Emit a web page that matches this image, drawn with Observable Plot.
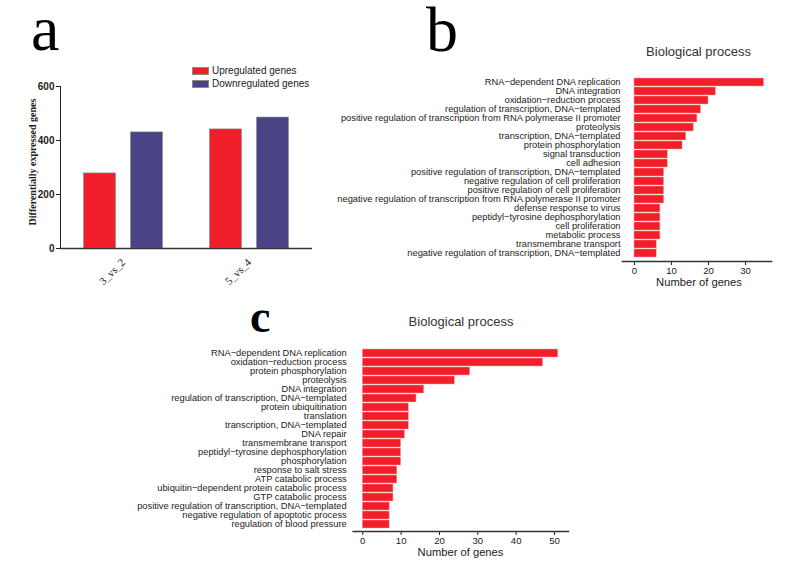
<!DOCTYPE html>
<html><head><meta charset="utf-8">
<script src="https://cdn.jsdelivr.net/npm/d3@7"></script>
<script src="https://cdn.jsdelivr.net/npm/@observablehq/plot@0.6"></script>
<style>
body{margin:0;background:#fff;}
#root{position:relative;width:787px;height:562px;overflow:hidden;background:#fff;font-family:"Liberation Sans",Arial,sans-serif;color:#222;}
#root svg{position:absolute;overflow:visible;}
.abs{position:absolute;white-space:nowrap;}
.pa g[aria-label="fx-axis tick label"]{font-family:"Liberation Serif","Times New Roman",serif;font-size:11px;}
.pa g[aria-label="y-axis tick label"]{font-weight:bold;font-size:10px;}
.pb g[aria-label="y-axis tick label"], .pc g[aria-label="y-axis tick label"]{font-size:9.3px;}
.pb g[aria-label="x-axis tick label"], .pc g[aria-label="x-axis tick label"]{font-size:9.6px;}
</style></head><body><div id="root"></div>
<script>
// ---- Panel a data ----
const comparisons = ["3_vs_2", "5_vs_4"];
const seriesNames = ["Upregulated genes", "Downregulated genes"];
const upValues = [278, 441];
const downValues = [430, 485];
const seriesColors = ["#f01e2a", "#4a4386"];
const aTicks = [0, 200, 400, 600];

// ---- Panel b data ----
const bTerms = [
  "RNA\u2212dependent DNA replication",
  "DNA integration",
  "oxidation\u2212reduction process",
  "regulation of transcription, DNA\u2212templated",
  "positive regulation of transcription from RNA polymerase II promoter",
  "proteolysis",
  "transcription, DNA\u2212templated",
  "protein phosphorylation",
  "signal transduction",
  "cell adhesion",
  "positive regulation of transcription, DNA\u2212templated",
  "negative regulation of cell proliferation",
  "positive regulation of cell proliferation",
  "negative regulation of transcription from RNA polymerase II promoter",
  "defense response to virus",
  "peptidyl\u2212tyrosine dephosphorylation",
  "cell proliferation",
  "metabolic process",
  "transmembrane transport",
  "negative regulation of transcription, DNA\u2212templated"
];
const bCounts = [35, 22, 20, 18, 17, 16, 14, 13, 9, 9, 8, 8, 8, 8, 7, 7, 7, 7, 6, 6];
const bTicks = [0, 10, 20, 30];

// ---- Panel c data ----
const cTerms = [
  "RNA\u2212dependent DNA replication",
  "oxidation\u2212reduction process",
  "protein phosphorylation",
  "proteolysis",
  "DNA integration",
  "regulation of transcription, DNA\u2212templated",
  "protein ubiquitination",
  "translation",
  "transcription, DNA\u2212templated",
  "DNA repair",
  "transmembrane transport",
  "peptidyl\u2212tyrosine dephosphorylation",
  "phosphorylation",
  "response to salt stress",
  "ATP catabolic process",
  "ubiquitin\u2212dependent protein catabolic process",
  "GTP catabolic process",
  "positive regulation of transcription, DNA\u2212templated",
  "negative regulation of apoptotic process",
  "regulation of blood pressure"
];
const cCounts = [51, 47, 28, 24, 16, 14, 12, 12, 12, 11, 10, 10, 10, 9, 9, 8, 8, 7, 7, 7];
const cTicks = [0, 10, 20, 30, 40, 50];

const barRed = "#f21f2b";
const root = document.getElementById("root");

function place(el, left, top) {
  el.style.left = left + "px";
  el.style.top = top + "px";
  root.appendChild(el);
}

function text(str, x, baseline, size, opts = {}) {
  const d = document.createElement("div");
  d.className = "abs";
  d.textContent = str;
  const serif = opts.serif;
  const lhf = opts.lh || 1;
  d.style.fontFamily = serif ? '"Liberation Serif","Times New Roman",serif' : '"Liberation Sans",Arial,sans-serif';
  d.style.fontSize = size + "px";
  d.style.lineHeight = (lhf * size) + "px";
  if (opts.weight) d.style.fontWeight = opts.weight;
  d.style.color = opts.color || "#222";
  const asc = serif ? 0.891 : 0.905, desc = serif ? 0.216 : 0.212;
  const k = (lhf - (asc + desc)) / 2 + asc;
  const top = baseline - k * size;
  if (opts.center) {
    d.style.width = "400px";
    d.style.textAlign = "center";
    place(d, x - 200, top);
  } else {
    place(d, x, top);
  }
  return d;
}

// ---- Panel a ----
const aData = comparisons.flatMap((c, i) => [
  {comparison: c, series: seriesNames[0], value: upValues[i]},
  {comparison: c, series: seriesNames[1], value: downValues[i]}
]);
const plotA = Plot.plot({
  className: "pa",
  width: 330, height: 240,
  marginLeft: 59.5, marginRight: 17, marginTop: 26, marginBottom: 52,
  style: {background: "transparent", fontFamily: "Liberation Sans, Arial, sans-serif", fontSize: "10px", color: "#222"},
  fx: {domain: comparisons, padding: 0, label: null, axis: "bottom", tickSize: 0, tickPadding: 12, tickRotate: -45},
  x: {domain: seriesNames, axis: null, paddingInner: 0.32, paddingOuter: 0.5},
  y: {domain: [0, 600], ticks: aTicks, tickSize: 4, tickPadding: 2, label: null, line: true},
  color: {domain: seriesNames, range: seriesColors},
  marks: [
    Plot.barY(aData, {fx: "comparison", x: "series", y: "value", fill: "series", stroke: "#8a8a8a", strokeWidth: 0.6}),
    Plot.ruleY([0], {stroke: "#333", strokeWidth: 1.6})
  ]
});
place(plotA, 0, 60);

// ---- Panel b ----
const bData = bTerms.map((t, i) => ({term: t, count: bCounts[i]}));
const plotB = Plot.plot({
  className: "pb",
  width: 450, height: 240,
  marginLeft: 292, marginRight: 9, marginTop: 17, marginBottom: 39, insetBottom: 2,
  style: {background: "transparent", fontFamily: "Liberation Sans, Arial, sans-serif", fontSize: "10px", color: "#222"},
  x: {domain: [-3.24, 37.03], ticks: bTicks, tickSize: 4, tickPadding: 2, label: null},
  y: {domain: bTerms, paddingInner: 0.1, paddingOuter: 0.03, tickSize: 0, tickPadding: 2, label: null},
  marks: [
    Plot.barX(bData, {y: "term", x: "count", fill: barRed, stroke: "#f7a1a6", strokeWidth: 0.5}),
    Plot.frame({anchor: "bottom", stroke: "#333", strokeWidth: 1.6})
  ]
});
place(plotB, 330, 60);

// ---- Panel c ----
const cData = cTerms.map((t, i) => ({term: t, count: cCounts[i]}));
const plotC = Plot.plot({
  className: "pc",
  width: 480, height: 232,
  marginLeft: 252.7, marginRight: 12, marginTop: 18, marginBottom: 31, insetBottom: 1,
  style: {background: "transparent", fontFamily: "Liberation Sans, Arial, sans-serif", fontSize: "10px", color: "#222"},
  x: {domain: [-2.5, 53.65], ticks: cTicks, tickSize: 4, tickPadding: 1.5, label: null},
  y: {domain: cTerms, paddingInner: 0.1, paddingOuter: 0.03, tickSize: 0, tickPadding: 6.5, label: null},
  marks: [
    Plot.barX(cData, {y: "term", x: "count", fill: barRed, stroke: "#f7a1a6", strokeWidth: 0.5}),
    Plot.frame({anchor: "bottom", stroke: "#333", strokeWidth: 1.6})
  ]
});
place(plotC, 100, 330);

// ---- Text overlays ----
text("a", 31, 50, 64, {serif: true, color: "#000", lh: 0.8});
text("b", 426, 51, 64, {serif: true, color: "#000", lh: 0.8});
text("c", 250, 333, 46, {serif: true, weight: "bold", color: "#000", lh: 0.8});

// legend (panel a)
seriesNames.forEach((name, i) => {
  const sw = document.createElement("div");
  sw.className = "abs";
  sw.style.width = "15px"; sw.style.height = "6px";
  sw.style.background = seriesColors[i];
  sw.style.border = "0.5px solid #8a8a8a";
  place(sw, 192, 67 + i * 13);
  text(name, 212, 73.5 + i * 13, 10, {lh: 0.9});
});

// y-axis title (panel a)
const yt = document.createElement("div");
yt.className = "abs";
yt.textContent = "Differentially expressed genes";
yt.style.fontFamily = '"Liberation Serif","Times New Roman",serif';
yt.style.fontWeight = "bold";
yt.style.fontSize = "10px";
yt.style.lineHeight = "12px";
yt.style.width = "200px";
yt.style.textAlign = "center";
yt.style.transform = "rotate(-90deg)";
yt.style.transformOrigin = "100px 6px";
place(yt, 33 - 100, 162 - 6);

text("Biological process", 698.5, 56, 13, {center: true, color: "#333", lh: 0.9});
text("Number of genes", 699, 286.5, 11.2, {center: true, lh: 0.8});
text("Biological process", 461, 326.5, 13, {center: true, color: "#333", lh: 0.9});
text("Number of genes", 460.5, 556.5, 11.2, {center: true, lh: 0.8});
</script></body></html>
